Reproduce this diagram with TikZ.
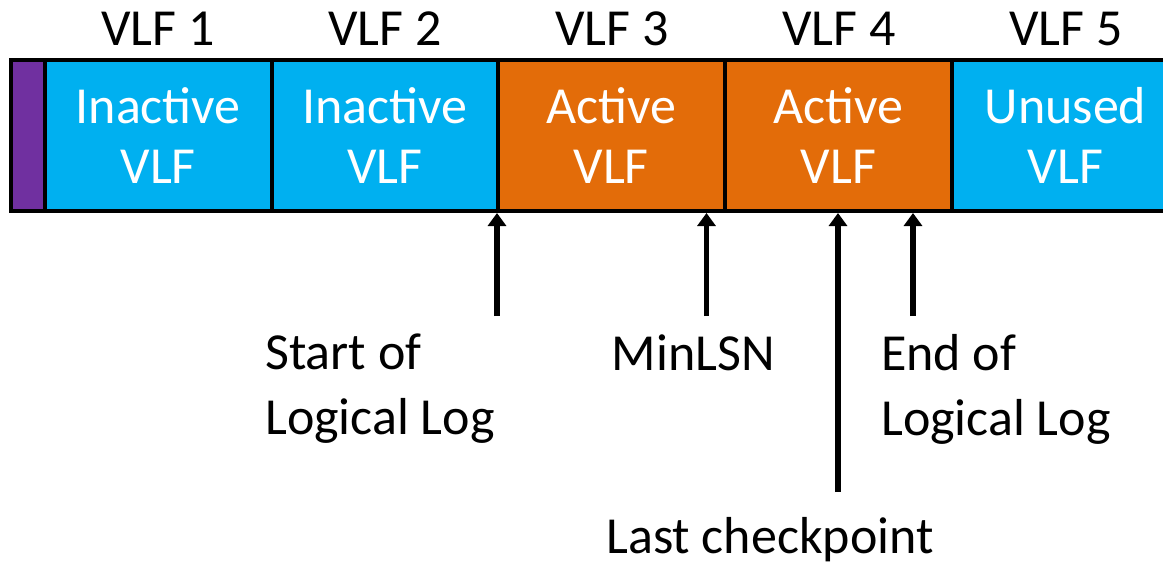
\documentclass[tikz,border=0pt]{standalone}
\usepackage{fontspec}
\setmainfont{Carlito}
\usetikzlibrary{arrows.meta}
\definecolor{vlfblue}{HTML}{00B0F0}
\definecolor{vlforange}{HTML}{E36C09}
\definecolor{vlfpurple}{HTML}{7030A0}
\begin{document}
\begin{tikzpicture}[x=1pt,y=-1pt,
  seg/.style={draw=black,line width=4pt,minimum height=151.5pt,inner sep=0pt,outer sep=0pt,anchor=north west,
    text=white,align=center,font=\fontsize{52}{60}\selectfont},
  title/.style={anchor=base,inner sep=0pt,font=\fontsize{52}{60}\selectfont},
  lbl/.style={inner sep=0pt,font=\fontsize{52}{65}\selectfont},
  arr/.style={-{Triangle[width=18pt,length=13pt]},line width=5.5pt}]
\useasboundingbox (0,0) rectangle (1163,565);
\clip (0,0) rectangle (1163,565);
% segments
\node[seg,fill=vlfpurple,minimum width=34.5pt] (v0) at (10.5,59.5) {};
\node[seg,fill=vlfblue,minimum width=226.5pt] (v1) at (45,59.5) {Inactive\\VLF};
\node[seg,fill=vlfblue,minimum width=226.5pt] (v2) at (271.5,59.5) {Inactive\\VLF};
\node[seg,fill=vlforange,minimum width=226.5pt] (v3) at (498,59.5) {Active\\VLF};
\node[seg,fill=vlforange,minimum width=227pt] (v4) at (725,59.5) {Active\\VLF};
\node[seg,fill=vlfblue,minimum width=227pt] (v5) at (952,59.5) {Unused\\VLF};
% titles
\node[title] (t1) at (158,45) {VLF 1};
\node[title] (t2) at (385,45) {VLF 2};
\node[title] (t3) at (612,45) {VLF 3};
\node[title] (t4) at (839,45) {VLF 4};
\node[title] (t5) at (1066,45) {VLF 5};
% labels
\node[lbl,anchor=north west,align=left] (start) at (265,334) {Start of\\Logical Log};
\node[lbl,anchor=base] (minlsn) at (693.5,370) {MinLSN};
\node[lbl,anchor=north west,align=left] (end) at (881,334) {End of\\Logical Log};
\node[lbl,anchor=base] (last) at (770,553) {Last checkpoint};
% arrow coordinates
\coordinate (s0) at (497,316); \coordinate (s1) at (497,213);
\coordinate (m0) at (706.5,316); \coordinate (m1) at (706.5,213);
\coordinate (c0) at (838,492); \coordinate (c1) at (838,213);
\coordinate (e0) at (913,316); \coordinate (e1) at (913,213);
\draw[arr] (s0) -- (s1);
\draw[arr] (m0) -- (m1);
\draw[arr] (c0) -- (c1);
\draw[arr] (e0) -- (e1);
\end{tikzpicture}
\end{document}
